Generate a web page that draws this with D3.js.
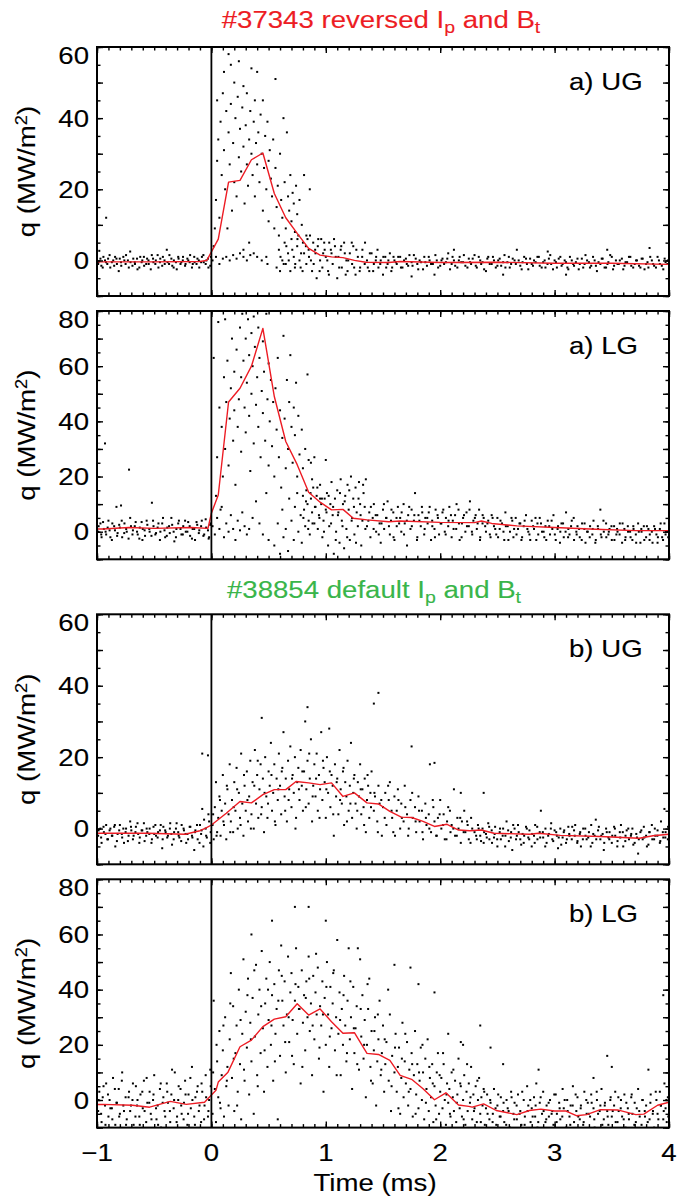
<!DOCTYPE html>
<html>
<head>
<meta charset="utf-8">
<script src="https://cdnjs.cloudflare.com/ajax/libs/d3/7.8.5/d3.min.js"></script>
<style>
  body { margin: 0; background: #fff; }
  text { font-family: "Liberation Sans", Arial, Helvetica, sans-serif; }
</style>
</head>
<body>
<div id="chart"></div>
<script>
// Heat flux q (MW/m^2) vs time (ms) for four divertor probes.
// Point clouds are [time, q] pairs, red curves are the averaged traces.

var X_TICKS = [-1, 0, 1, 2, 3, 4];
var X_TICK_LABELS = ["\u22121", "0", "1", "2", "3", "4"];
var PANEL_NAMES = ["a) UG", "a) LG", "b) UG", "b) LG"];
var Y_MAX = [60, 80, 60, 80];

// #37343, upper gap
var UG_A_PTS = [
  [-.99,-1],[-.98,2.7],[-.97,.5],[-.95,-2],[-.93,0],[-.92,12],[-.91,-1],[-.89,1.5],[-.87,-.5],[-.85,-1.5],[-.83,.5],[-.81,-3],[-.79,-.5],[-.77,1],[-.75,-1],[-.73,0],[-.71,2.5],[-.69,-1.5],[-.67,-.5],[-.65,.5],[-.63,-2],[-.61,-.5],[-.59,1],[-.57,-1],[-.55,0],[-.53,-2.5],[-.51,.5],[-.49,-1],[-.47,1.5],[-.45,-.5],[-.43,-1.5],[-.41,0],[-.39,3],[-.37,-1],[-.35,.5],[-.33,-2],[-.31,-.5],[-.29,1],[-.27,-1],[-.25,0],[-.23,-1.5],[-.21,.5],[-.19,-.5],[-.17,-2],[-.15,1],[-.13,-1],[-.11,0],[-.09,-.5],[-.07,1.5],[-.05,-1],[-.03,.5],[-.01,-1.5],
  [-.987,-.5],[-.962,-1.5],[-.944,1],[-.921,-.5],[-.903,.5],[-.884,-2],[-.858,0],[-.842,1],[-.826,-1],[-.801,.5],[-.788,-1.5],[-.761,0],[-.746,1.5],[-.722,-2],[-.707,-.5],[-.683,.5],[-.668,-1],[-.646,-2.5],[-.622,1],[-.604,0],[-.588,-1.5],[-.562,.5],[-.548,-1],[-.521,1.5],[-.507,-.5],[-.486,0],[-.463,-2],[-.447,.5],[-.424,1],[-.408,-1],[-.383,-.5],[-.367,1.5],[-.342,-1.5],[-.328,0],[-.303,-2.5],[-.287,.5],[-.263,-.5],[-.248,1],[-.226,-1],[-.202,0],[-.186,1.5],[-.163,-1],[-.147,-.5],[-.122,.5],[-.106,-2],[-.083,1],[-.067,-.5],[-.044,0],[-.026,-2],[-.004,1],
  [.02,4],[.03,9],[.04,17],[.05,45],[.05,28],[.06,34],[.07,12],[.08,39],[.09,24],[.1,47],[.11,53],[.11,31],[.12,20],[.13,42],[.14,9],[.15,58],[.15,36],[.16,27],[.17,55],[.17,44],[.18,14],[.19,33],[.2,50],[.2,22],[.21,40],[.22,18],[.23,46],[.24,29],[.24,56],[.25,37],[.26,25],[.27,43],[.28,49],[.28,32],[.29,16],[.3,38],[.31,27],[.31,47],[.32,21],[.33,34],[.34,42],[.35,54],[.35,30],[.36,24],[.37,39],[.38,45],[.38,18],[.39,33],[.4,53],[.4,27],[.41,36],[.42,22],[.43,41],[.44,30],[.45,14],[.45,45],[.46,26],[.47,35],[.48,20],[.49,39],[.5,28],[.5,11],[.51,31],[.52,23],[.53,18],[.54,34],[.55,9],[.56,51],[.56,26],[.57,15],[.58,21],[.59,7],[.6,30],[.61,17],[.62,12],[.63,40],[.64,22],[.65,9],[.66,36],[.67,18],[.68,14],[.69,24],[.7,11],[.71,19],[.72,16],[.73,8],[.74,21],[.75,13],[.77,17],[.79,10],[.81,24],[.83,7],[.86,20],
  [.01,0],[.04,1],[.07,-1],[.1,.5],[.13,1],[.16,0],[.19,1.5],[.22,.5],[.25,2],[.28,1],[.31,0],[.34,1.5],[.37,2],[.4,1],[.44,0],[.48,1],[.33,5],[.28,3],[.49,-1],
  [.57,-2],[.59,3],[.6,-3],[.62,0],[.64,5],[.65,-1],[.67,2],[.69,-3],[.7,6],[.72,1],[.73,-2],[.75,4],[.76,7],[.77,0],[.78,-2],[.8,5],[.81,2],[.83,-1],[.84,6],[.85,3],[.87,0],[.88,-3],[.89,5],[.91,2],[.92,-5],[.93,4],[.95,0],[.96,6],[.97,-2],[.99,3],[1,1],[1.02,-3],[1.03,5],[1.05,2],[1.06,-1],[1.08,4],[1.1,-5],[1.11,1],[1.13,3],[1.14,-2],[1.16,5],[1.18,0],[1.19,-3],[1.21,2],[1.23,-1],[1.24,4],[1.26,-4],[1.28,1],[1.3,-2],[1.32,3],[1.34,-1],[1.36,0],[1.38,-3],[1.4,2],[1.42,-1],[1.44,1],[1.46,-2],[1.48,0],[1.5,-4],[1.52,1],[1.54,-1],[1.56,2],[1.58,-2],
  [.604,1],[.632,-1],[.655,4],[.676,0],[.707,3],[.733,-1],[.752,6],[.784,2],[.797,-3],[.826,4],[.853,1],[.862,7],[.894,-1],[.907,3],[.934,6],[.946,-3],[.977,2],[.986,5],[1.013,0],[1.027,-4],[1.044,3],[1.072,6],[1.087,1],[1.117,-2],[1.135,4],[1.166,2],[1.174,-4],[1.196,0],[1.227,5],[1.248,-2],[1.267,3],[1.296,-3],[1.318,1],[1.343,5],[1.367,-2],[1.385,2],[1.414,-3],[1.437,0],[1.452,3],[1.476,-1],[1.503,1],[1.528,-2],[1.547,0],[1.573,-3],[1.592,1],
  [1.6,0],[1.62,-1],[1.65,1],[1.67,-2],[1.7,.5],[1.72,-1.5],[1.75,-.5],[1.77,1.5],[1.8,-1],[1.82,0],[1.85,-2.5],[1.87,-.5],[1.9,1],[1.92,-1],[1.95,-4],[1.97,0],[2,-1.5],[2.02,.5],[2.05,-.5],[2.07,2],[2.1,-1],[2.12,0],[2.15,-2],[2.17,1],[2.2,-.5],[2.22,-1.5],[2.25,.5],[2.27,-1],[2.3,1.5],[2.32,-2],[2.35,0],[2.37,-.5],[2.4,-3],[2.42,1],[2.45,-1],[2.47,0],[2.5,-1.5],[2.52,.5],[2.55,-.5],[2.57,-2],[2.6,1],[2.62,-1],[2.65,0],[2.67,3],[2.7,-1.5],[2.72,-.5],[2.75,.5],[2.77,-2.5],[2.8,-1],[2.82,0],[2.85,1],[2.87,-1.5],[2.9,-.5],[2.92,-2],[2.95,.5],[2.97,-1],[3,0],[3.02,-2],[3.05,1],[3.07,-1],[3.1,-.5],[3.12,-2.5],[3.15,0],[3.17,-1.5],[3.2,.5],[3.22,-1],[3.25,-2],[3.27,1.5],[3.3,-.5],[3.32,-1.5],[3.35,0],[3.37,-3],[3.4,-1],[3.42,.5],[3.45,-2],[3.47,-.5],[3.5,1],[3.52,-1.5],[3.55,-1],[3.57,0],[3.6,-2.5],[3.62,-.5],[3.65,1],[3.67,-1.5],[3.7,-1],[3.72,0],[3.75,-2],[3.77,.5],[3.8,-1],[3.82,-2],[3.85,0],[3.87,-1.5],[3.9,1],[3.92,-1],[3.95,-2.5],[3.97,-.5],[3.99,0],
  [1.612,-.5],[1.633,1],[1.657,-2],[1.684,0],[1.708,-1],[1.731,1.5],[1.758,-1.5],[1.786,.5],[1.808,-2.5],[1.833,-.5],[1.861,1],[1.884,-1.5],[1.907,0],[1.936,-1],[1.958,1.5],[1.982,-2],[2.011,0],[2.034,-1],[2.062,.5],[2.086,-2.5],[2.108,1],[2.131,-1.5],[2.163,0],[2.184,-.5],[2.207,1.5],[2.238,-2],[2.261,-.5],[2.284,.5],[2.311,-1.5],[2.337,1],[2.358,-1],[2.384,-2.5],[2.412,.5],[2.433,-1],[2.461,1],[2.486,-2],[2.507,0],[2.533,-1.5],[2.562,1.5],[2.587,-.5],[2.608,-2],[2.634,.5],[2.661,-1],[2.686,0],[2.712,-2.5],[2.734,1],[2.758,-1],[2.786,.5],[2.811,-1.5],[2.834,-.5],[2.862,1],[2.887,-2],[2.913,0],[2.938,-1],[2.962,1.5],[2.986,-2.5],[3.012,-.5],[3.036,.5],[3.061,-1.5],[3.088,0],[3.112,-2],[3.134,1],[3.162,-1],[3.186,-.5],[3.211,-2.5],[3.238,.5],[3.262,-1],[3.284,0],[3.309,-2],[3.336,1],[3.361,-1.5],[3.384,-.5],[3.412,.5],[3.437,-2],[3.462,-1],[3.486,1.5],[3.511,-2.5],[3.536,0],[3.561,-1],[3.588,.5],[3.611,-1.5],[3.634,-.5],[3.662,1],[3.687,-2],[3.712,0],[3.738,-1.5],[3.761,.5],[3.786,-2.5],[3.812,-.5],[3.836,1],[3.861,-1],[3.886,-2],[3.912,0],[3.937,-1.5],[3.962,.5],[3.986,-1],
  [2.12,3],[2.94,2.5],[3.46,3],[3.83,3.5],[2.55,-4],[1.75,-4.5],[3.1,-4]
];
var UG_A_AVG = [
  [-1,-.4],[-.5,-.4],[-.1,-.3],[-.04,0],[.06,6],[.15,22],[.25,22.5],[.35,28.3],[.45,30.2],[.55,18.8],[.65,12],[.75,7.6],[.85,3.4],[.95,1.5],[1.05,1],[1.15,.8],[1.25,0],[1.35,-.5],[1.55,-.6],[1.65,-.3],[2,-.6],[2.5,-.5],[3,-.8],[3.5,-.8],[4,-1.1]
];

// #37343, lower gap
var LG_A_PTS = [
  [-.99,0],[-.97,3],[-.96,-2],[-.94,1],[-.93,32],[-.92,-1],[-.9,4],[-.89,.5],[-.87,-3],[-.85,2],[-.83,9],[-.82,-.5],[-.8,1.5],[-.79,9.5],[-.78,-2],[-.76,3],[-.74,0],[-.72,22.5],[-.71,5],[-.69,-1],[-.67,2],[-.65,0],[-.63,-2.5],[-.61,3.5],[-.6,1],[-.58,-1.5],[-.56,2.5],[-.54,0],[-.52,10.5],[-.51,4],[-.49,-1],[-.47,1.5],[-.45,-3],[-.43,3],[-.41,.5],[-.39,-1.5],[-.37,2],[-.35,5],[-.33,0],[-.31,-2],[-.29,3],[-.27,1],[-.25,-1],[-.23,4],[-.21,0],[-.19,2],[-.17,-2.5],[-.15,1],[-.13,3.5],[-.11,-.5],[-.09,2],[-.07,-1.5],[-.05,4.5],[-.03,.5],[-.02,-2],[-.01,2.5],
  [-.986,2],[-.963,-1],[-.947,3.5],[-.925,0],[-.907,1.5],[-.883,-2],[-.866,3],[-.843,.5],[-.824,-1.5],[-.806,2.5],[-.784,4],[-.762,-.5],[-.745,1],[-.724,-2.5],[-.703,2],[-.686,.5],[-.662,3.5],[-.644,-1],[-.626,1.5],[-.603,-3],[-.584,.5],[-.566,4],[-.543,1],[-.524,-1.5],[-.506,2],[-.484,-.5],[-.463,3],[-.446,0],[-.423,5],[-.404,-2],[-.386,1.5],[-.364,-.5],[-.343,2.5],[-.324,-3.5],[-.306,1],[-.284,4],[-.262,-1],[-.246,2],[-.224,0],[-.203,3.5],[-.186,-1.5],[-.164,1],[-.143,-3],[-.124,2.5],[-.106,.5],[-.084,4],[-.063,-1],[-.046,1.5],[-.024,-2.5],[-.006,3],
  [.02,63],[.04,13],[.05,27],[.06,76],[.07,45],[.08,8],[.09,38],[.1,20],[.11,56],[.12,77],[.12,30],[.13,47],[.14,62],[.15,24],[.16,41],[.17,52],[.18,70],[.19,33],[.2,58],[.2,44],[.21,17],[.22,66],[.23,38],[.24,48],[.25,74],[.26,56],[.26,29],[.27,79],[.28,62],[.29,45],[.3,70],[.3,36],[.31,54],[.32,77],[.33,64],[.33,42],[.34,22],[.35,72],[.35,50],[.36,60],[.37,78],[.37,32],[.38,67],[.39,46],[.4,56],[.41,74],[.41,38],[.42,63],[.43,27],[.44,51],[.45,69],[.45,43],[.46,58],[.47,33],[.48,79],[.49,48],[.5,61],[.5,24],[.51,40],[.52,55],[.53,31],[.54,47],[.55,20],[.56,52],[.57,37],[.58,63],[.59,27],[.6,44],[.61,16],[.62,34],[.63,71],[.64,41],[.65,23],[.66,55],[.67,30],[.68,47],[.69,64],[.7,38],[.71,25],[.72,45],[.73,35],[.74,54],[.75,20],[.76,42],[.77,28],[.79,37],[.8,23],[.82,30],[.84,57],[.85,26],[.87,25],[.88,19],[.9,27],[.95,12],[1,26],
  [.01,2],[.03,-1],[.05,5],[.07,1],[.09,9],[.11,-2],[.13,3],[.15,0],[.17,6],[.19,1],[.21,-3],[.23,4],[.25,.5],[.27,7],[.29,2],[.31,-1],[.33,1],[.36,5],[.39,11],[.42,3],[.45,-1],[.5,-3],[.48,14],
  [.55,-5],[.58,3],[.6,-8],[.62,8],[.63,-2],[.65,1],[.67,-7],[.68,12],[.7,4],[.72,-3],[.73,9],[.75,14],[.76,0],[.78,6],[.79,-4],
  [.8,13],[.81,8],[.82,2],[.83,15],[.84,10],[.85,4],[.86,-1],[.87,12],[.88,7],[.89,16],[.9,3],[.91,9],[.92,13],[.93,1],[.94,6],[.95,17],[.96,10],[.97,-2],[.98,4],[.99,12],[1,8],[1.01,14],[1.02,-5],[1.03,2],[1.04,10],[1.05,18],[1.06,6],[1.07,-8],[1.08,12],[1.09,0],[1.1,15],[1.11,7],[1.12,-4],[1.13,19],[1.14,4],[1.15,10],[1.16,-6],[1.17,13],[1.18,1],[1.19,17],[1.2,8],[1.21,-3],[1.22,20],[1.23,5],[1.24,12],[1.25,-1],[1.26,16],[1.27,7],[1.28,2],[1.29,18],[1.3,10],[1.31,-5],[1.32,4],[1.33,14],[1.34,9],[1.35,19],
  [.804,5],[.827,11],[.846,1],[.866,14],[.884,3],[.905,9],[.926,16],[.944,5],[.966,12],[.984,0],[1.006,7],[1.025,13],[1.046,3],[1.064,9],[1.087,-3],[1.106,6],[1.124,14],[1.146,2],[1.165,11],[1.187,-2],[1.205,15],[1.226,4],[1.246,9],[1.264,-4],[1.286,12],[1.304,6],[1.326,17],[1.346,1],
  [1.36,2],[1.38,7],[1.39,-2],[1.41,5],[1.42,10],[1.44,0],[1.45,6],[1.47,3],[1.48,-4],[1.5,8],[1.51,1],[1.53,5],[1.54,11],[1.56,-1],[1.57,4],[1.59,7],[1.6,-3],[1.62,2],[1.63,9],[1.65,5],[1.66,0],[1.68,10],[1.69,3],[1.71,-5],[1.72,6],[1.74,1],[1.75,8],[1.77,4],[1.78,14],[1.8,-2],[1.81,6],[1.83,2],[1.84,9],[1.86,-1],[1.87,5],[1.89,3],[1.9,7],[1.92,-3],[1.93,4],[1.95,1],[1.96,8],[1.98,5],[1.99,-1],[2.01,3],[2.02,7],[2.04,0],[2.05,5],[2.07,2],[2.08,9],[2.1,-2],[2.11,4],[2.13,6],[2.14,1],[2.16,8],[2.17,-3],[2.19,3],[2.2,5],[2.22,0],[2.23,7],[2.25,2],[2.26,11],[2.28,-1],[2.29,4],[2.31,6],[2.32,1],[2.34,8],[2.35,-2],[2.37,3],[2.38,5],
  [1.372,4],[1.394,9],[1.418,1],[1.436,6],[1.463,-1],[1.487,3],[1.508,10],[1.527,5],[1.552,2],[1.574,8],[1.592,-2],[1.618,5],[1.641,3],[1.663,7],[1.684,-1],[1.708,4],[1.729,9],[1.752,2],[1.774,6],[1.797,-3],[1.818,4],[1.843,7],[1.864,1],[1.887,5],[1.908,9],[1.931,2],[1.954,-2],[1.977,6],[2.004,3],[2.027,8],[2.048,-1],[2.073,4],[2.094,6],[2.117,1],[2.143,10],[2.164,3],[2.187,-2],[2.208,6],[2.234,2],[2.256,8],[2.277,0],[2.303,5],[2.327,3],[2.348,-3],[2.371,6],[2.393,2],
  [2.4,0],[2.42,4],[2.44,-2],[2.45,6],[2.47,2],[2.49,-1],[2.5,5],[2.52,1],[2.54,3],[2.56,-3],[2.57,7],[2.59,2],[2.61,0],[2.63,4],[2.64,-2],[2.66,5],[2.68,1],[2.7,3],[2.71,-3],[2.73,2],[2.75,6],[2.77,0],[2.78,-1],[2.8,4],[2.82,1],[2.84,-3],[2.85,3],[2.87,5],[2.89,0],[2.91,-2],[2.92,2],[2.94,4],[2.96,-1],[2.98,1],[2.99,6],[3.01,-3],[3.03,2],[3.05,0],[3.06,3],[3.08,-2],[3.1,7],[3.12,1],[3.13,-1],[3.15,4],[3.17,-3],[3.19,0],[3.2,2],[3.22,-2],[3.24,3],[3.26,1],[3.27,-4],[3.29,0],[3.31,2],[3.33,-1],[3.34,4],[3.36,-3],[3.38,1],[3.4,8],[3.41,-2],[3.43,0],[3.45,3],[3.47,-1],[3.48,1],[3.5,-3],[3.52,2],[3.54,-1],[3.55,0],[3.57,3],[3.59,-4],[3.61,1],[3.62,-2],[3.64,2],[3.66,0],[3.68,-3],[3.69,1],[3.71,-1],[3.73,3],[3.75,-4],[3.76,0],[3.78,2],[3.8,-2],[3.82,1],[3.83,-3],[3.85,0],[3.87,2],[3.89,-1],[3.9,-4],[3.92,1],[3.94,-2],[3.96,3],[3.97,-1],[3.99,0],
  [2.413,3],[2.434,-1],[2.458,5],[2.481,1],[2.506,-2],[2.527,4],[2.553,0],[2.574,2],[2.596,-3],[2.623,5],[2.646,1],[2.667,-1],[2.693,3],[2.716,-2],[2.738,4],[2.762,1],[2.787,-3],[2.812,2],[2.833,5],[2.857,-1],[2.881,3],[2.904,0],[2.927,-3],[2.953,2],[2.974,4],[3.002,-1],[3.026,1],[3.047,-4],[3.074,3],[3.096,0],[3.118,-2],[3.144,2],[3.167,5],[3.193,-1],[3.214,1],[3.237,-3],[3.262,3],[3.284,0],[3.307,-2],[3.333,1],[3.356,-4],[3.378,2],[3.404,-1],[3.427,4],[3.452,-2],[3.474,0],[3.497,2],[3.523,-3],[3.546,1],[3.568,-1],[3.594,3],[3.617,-3],[3.642,0],[3.664,-2],[3.688,2],[3.713,-4],[3.736,0],[3.758,1],[3.784,-3],[3.807,2],[3.832,-1],[3.856,-4],[3.878,1],[3.903,-2],[3.927,3],[3.948,-3],[3.973,0],[3.993,-2]
];
var LG_A_AVG = [
  [-1,1],[-.95,1],[-.72,1.5],[-.5,1.2],[-.18,1.5],[-.03,1.2],[0,6.7],[.06,13.3],[.15,47],[.25,52],[.35,60],[.45,73.7],[.55,49],[.65,32.7],[.75,24.3],[.85,14.3],[.95,10.7],[1.05,7.9],[1.15,8.1],[1.24,4.9],[1.36,4.3],[1.55,3.6],[1.65,3.9],[2,3.4],[2.3,3.3],[2.36,3.9],[2.45,3],[2.67,2.1],[3,1.5],[3.36,.9],[3.71,.4],[4,.4]
];

// #38854, upper gap
var UG_B_PTS = [
  [-.99,-2],[-.97,0],[-.96,-4],[-.94,-1],[-.92,1],[-.91,-3],[-.89,-.5],[-.87,-2],[-.85,.5],[-.84,-5],[-.82,-1.5],[-.8,1],[-.78,-2.5],[-.77,0],[-.75,-1],[-.73,-3.5],[-.71,2],[-.7,-.5],[-.68,-2],[-.66,.5],[-.64,-1.5],[-.63,-4],[-.61,-.5],[-.59,1.5],[-.57,-2],[-.56,-1],[-.54,0],[-.52,-3],[-.5,-1.5],[-.49,1],[-.47,-2.5],[-.45,-.5],[-.43,-5.5],[-.42,.5],[-.4,-1],[-.38,-2],[-.36,1.5],[-.35,-1.5],[-.33,-3],[-.31,0],[-.29,-1],[-.28,-2.5],[-.26,1],[-.24,-.5],[-.22,-4],[-.21,-1.5],[-.19,.5],[-.17,-2],[-.15,-6],[-.14,-.5],[-.12,-3],[-.1,1],[-.09,-1.5],[-.08,21],[-.08,5.5],[-.07,-5],[-.05,0],[-.04,-2.5],[-.03,20.5],[-.02,2],[-.01,-4],
  [-.986,-.5],[-.964,-2.5],[-.943,.5],[-.926,-1.5],[-.904,-3],[-.883,0],[-.866,-2],[-.844,1],[-.826,-3.5],[-.806,-.5],[-.783,-1.5],[-.764,-4],[-.746,0],[-.724,-2],[-.703,.5],[-.686,-3],[-.664,-1],[-.646,1.5],[-.626,-2.5],[-.604,-.5],[-.584,-3.5],[-.566,0],[-.543,-1.5],[-.524,-4],[-.506,.5],[-.484,-2],[-.466,-1],[-.443,1],[-.426,-3],[-.404,-.5],[-.386,-2.5],[-.363,0],[-.344,-4.5],[-.326,-1],[-.304,1.5],[-.286,-2],[-.264,-3.5],[-.243,0],[-.226,-1.5],[-.204,-3],[-.184,.5],[-.166,-2.5],[-.144,-1],[-.126,1],[-.104,-4],[-.086,-.5],[-.064,2.5],[-.046,-2],[-.026,4],[-.006,-1],
  [.01,1],[.02,-3],[.03,6],[.04,13],[.05,-1],[.06,3],[.07,9],[.08,-2],[.09,5],[.1,15],[.11,1],[.12,7],[.13,-3],[.14,11],[.15,4],[.16,18],[.17,2],[.18,8],[.19,-1],[.2,13],[.21,5],[.22,17],[.23,0],[.24,10],[.25,3],[.26,21],[.27,7],[.28,-2],[.29,12],[.3,5],
  [.31,16],[.32,2],[.33,9],[.34,19],[.35,4],[.36,13],[.37,0],[.38,22],[.39,7],[.4,15],[.41,3],[.42,11],[.43,18],[.44,31],[.44,6],[.45,14],[.46,-1],[.47,20],[.48,9],[.49,3],[.5,16],[.51,12],[.52,24],[.53,5],[.54,10],[.55,18],[.56,1],[.57,14],[.58,8],[.59,21],[.6,12],[.61,4],[.62,17],[.63,27],[.64,9],[.65,14],[.66,2],[.67,19],[.68,11],[.69,23],[.7,6],[.71,15],[.72,10],[.73,20],[.74,3],[.75,13],[.76,17],[.77,8],[.78,22],[.79,12],
  [.8,5],[.81,16],[.82,30],[.83,11],[.84,34],[.84,19],[.85,7],[.86,14],[.87,25],[.88,2],[.89,12],[.9,18],[.91,9],[.92,21],[.93,5],[.94,15],[.95,11],[.96,27],[.97,8],[.98,17],[.99,13],[1,3],[1.01,20],[1.02,10],[1.03,28],[1.04,6],[1.05,15],[1.06,12],[1.07,-2],[1.08,18],[1.09,9],[1.1,14],
  [1.11,4],[1.12,22],[1.13,11],[1.14,7],[1.15,16],[1.16,1],[1.17,13],[1.18,9],[1.19,19],[1.2,5],[1.21,12],[1.22,24],[1.23,3],[1.24,10],[1.25,15],[1.26,7],[1.27,0],[1.28,13],[1.29,9],[1.3,18],[1.31,4],[1.32,11],[1.33,6],[1.34,14],[1.35,-1],[1.36,8],[1.37,12],[1.38,3],[1.39,10],[1.4,16],[1.42,35],[1.42,5],[1.43,9],[1.45,2],[1.46,38],[1.46,12],[1.47,7],[1.49,-2],
  [1.5,6],[1.52,10],[1.53,1],[1.55,8],[1.56,13],[1.58,3],[1.59,-1],[1.6,9],[1.62,5],[1.63,11],[1.65,0],[1.66,7],[1.68,2],[1.69,12],[1.71,4],[1.72,-2],[1.74,8],[1.75,23],[1.76,3],[1.78,6],[1.79,-1],[1.81,9],[1.82,2],[1.84,5],[1.85,-3],[1.87,7],[1.88,1],[1.9,4],[1.91,18],[1.92,-1],[1.94,6],[1.95,18.4],[1.95,2],[1.97,-2],[1.98,3],[2,8],[2.01,0],[2.03,4],[2.04,-3],[2.06,2],[2.07,6],[2.09,-1],[2.1,1],[2.12,11],[2.13,-2],[2.15,3],[2.16,0],[2.18,10],[2.18,-4],[2.19,2],[2.21,5],[2.22,-1],[2.24,1],[2.25,-3],[2.27,3],[2.28,0],
  [.015,4],[.045,-2],[.075,8],[.105,2],[.135,12],[.165,-1],[.195,6],[.225,11],[.255,1],[.285,15],[.315,8],[.345,0],[.375,12],[.405,19],[.435,4],[.465,10],[.495,7],[.525,15],[.555,2],[.585,11],[.615,16],[.645,5],[.675,8],[.705,14],[.735,0],[.765,11],[.795,16],[.825,6],[.855,21],[.885,9],[.915,14],[.945,3],[.975,19],[1.005,11],[1.035,16],[1.065,4],[1.095,13],[1.125,8],[1.155,17],[1.185,2],[1.215,7],[1.245,14],[1.275,5],[1.305,11],[1.335,1],[1.365,15],[1.395,6],[1.425,10],[1.455,-1],[1.485,8],[1.515,3],[1.545,12],[1.575,5],[1.605,-2],[1.635,8],[1.665,3],[1.695,6],[1.725,0],[1.755,10],[1.785,2],[1.815,5],[1.845,-1],[1.875,3],[1.905,0],[1.935,8],[1.965,-2],[1.995,4],[2.025,1],[2.055,-3],[2.085,5],[2.115,0],[2.145,-2],[2.175,3],[2.205,-1],[2.235,2],[2.265,-4],
  [2.3,-1],[2.32,-3],[2.33,1],[2.35,-2],[2.37,0],[2.38,10],[2.38,-4],[2.4,-1.5],[2.42,1.5],[2.43,-3],[2.45,-.5],[2.47,-2.5],[2.48,.5],[2.5,-5],[2.52,-1],[2.53,-3],[2.55,0],[2.57,-2],[2.58,2],[2.6,-3.5],[2.62,-1],[2.63,-6],[2.65,0],[2.67,-2],[2.68,1],[2.7,-3],[2.72,-1.5],[2.73,-4],[2.75,.5],[2.77,-2.5],[2.78,-.5],[2.8,-5],[2.82,-2],[2.83,1],[2.85,-3],[2.87,-1],[2.88,5],[2.9,-2.5],[2.92,0],[2.93,-4],[2.95,-1.5],[2.97,1.5],[2.98,-3],[3,-.5],[3.02,-2],[3.03,-5.5],[3.05,0],[3.07,-2.5],[3.08,-1],[3.1,-4],[3.12,.5],[3.13,-2],[3.15,-3],[3.17,-.5],[3.18,1],[3.2,-3.5],[3.22,-1.5],[3.23,-5],[3.25,0],[3.27,-2],[3.28,-3],[3.3,-1],[3.32,1],[3.33,-4],[3.35,-2],[3.36,2.5],[3.38,-.5],[3.4,-3],[3.42,-1.5],[3.43,-6],[3.45,0],[3.47,-2.5],[3.48,-1],[3.5,-4],[3.52,.5],[3.53,-2],[3.55,-3.5],[3.57,-1],[3.58,1],[3.6,-5],[3.62,-2],[3.63,-.5],[3.65,-3],[3.67,-1.5],[3.68,0],[3.7,-4],[3.72,-2.5],[3.73,-7],[3.75,-1],[3.77,-3],[3.78,.5],[3.8,-2],[3.82,-4.5],[3.83,-1],[3.85,1],[3.87,-3],[3.88,-2],[3.9,-.5],[3.92,-4],[3.93,2],[3.95,-2.5],[3.96,5.5],[3.97,-1],[3.99,-3],
  [2.314,-2],[2.336,0],[2.357,-3.5],[2.384,-1],[2.407,-2.5],[2.428,.5],[2.453,-4],[2.476,-1.5],[2.498,-3],[2.523,0],[2.546,-2],[2.568,-5],[2.594,-.5],[2.617,-2.5],[2.638,1],[2.663,-3],[2.686,-1],[2.708,-4.5],[2.734,-2],[2.757,0],[2.778,-3],[2.804,-1.5],[2.826,-4],[2.848,.5],[2.874,-2.5],[2.897,-1],[2.918,-5],[2.944,-2],[2.967,0],[2.988,-3.5],[3.014,-1],[3.036,-2.5],[3.058,-4.5],[3.084,-.5],[3.107,-3],[3.128,-1.5],[3.154,.5],[3.176,-2],[3.198,-4],[3.224,-1],[3.247,-3],[3.268,0],[3.294,-2.5],[3.316,-5],[3.338,-1.5],[3.364,-3],[3.387,.5],[3.408,-2],[3.434,-4],[3.456,-1],[3.478,-3],[3.504,-2],[3.527,0],[3.548,-5],[3.574,-2.5],[3.596,-1],[3.618,-3.5],[3.644,0],[3.667,-2],[3.688,-4.5],[3.714,-1.5],[3.736,-3],[3.758,-.5],[3.784,-2.5],[3.807,-5],[3.828,-1],[3.854,-3],[3.876,0],[3.898,-2],[3.924,-3.5],[3.946,-1],[3.968,-2.5],[3.992,.5]
];
var UG_B_AVG = [
  [-1,-1.3],[-.56,-1.3],[-.23,-1.6],[-.1,-.6],[-.05,.1],[0,1],[.13,4.3],[.25,7.6],[.35,7.2],[.45,9.5],[.55,10.9],[.65,10.9],[.74,13.2],[.85,12.8],[.95,12.3],[1.05,12.8],[1.15,9],[1.25,10],[1.36,7.2],[1.46,6.9],[1.56,4.8],[1.66,3.2],[1.75,3.1],[1.85,2],[1.95,.6],[2.06,1.2],[2.16,-.4],[2.26,-.6],[2.36,-.4],[2.47,-1.3],[2.78,-1.6],[2.86,-1.3],[3.05,-1.9],[3.4,-2.2],[3.74,-2.7],[3.86,-2],[4,-1.6]
];

// #38854, lower gap
var LG_B_PTS = [
  [-.99,-4],[-.98,3],[-.96,-8],[-.95,1],[-.93,-2],[-.92,6],[-.9,-6],[-.89,0],[-.87,-3],[-.86,8],[-.84,-9],[-.83,-1],[-.81,4],[-.8,-5],[-.78,10],[-.77,-2],[-.75,1],[-.74,-7],[-.72,3],[-.71,-4],[-.69,0],[-.68,-9],[-.66,5],[-.65,-2],[-.63,-6],[-.62,2],[-.6,-3],[-.59,7],[-.57,-8],[-.56,-1],[-.54,3],[-.53,-5],[-.51,0],[-.5,9],[-.48,-7],[-.47,-2],[-.45,4],[-.44,-10],[-.42,1],[-.41,-4],[-.39,6],[-.38,-1],[-.36,-8],[-.35,2],[-.33,-3],[-.32,10],[-.3,-6],[-.29,0],[-.27,4],[-.26,-5],[-.24,-1],[-.23,7],[-.21,-9],[-.2,2],[-.18,-3],[-.17,12],[-.15,-6],[-.14,1],[-.12,5],[-.11,-4],[-.09,-8],[-.08,3],[-.06,-2],[-.05,9],[-.03,-6],[-.02,0],[-.01,11],
  [-.986,0],[-.964,-5],[-.943,5],[-.926,-9],[-.904,2],[-.883,-3],[-.866,-7],[-.844,4],[-.826,-1],[-.806,-6],[-.783,7],[-.764,-4],[-.746,-9],[-.724,1],[-.703,-2],[-.686,6],[-.664,-6],[-.646,0],[-.626,-9],[-.604,3],[-.584,-4],[-.566,8],[-.543,-1],[-.524,-7],[-.506,2],[-.484,-3],[-.466,-9],[-.443,6],[-.426,-1],[-.404,-6],[-.386,3],[-.363,-4],[-.344,11],[-.326,0],[-.304,-8],[-.286,5],[-.264,-2],[-.243,-7],[-.226,2],[-.204,-5],[-.184,8],[-.166,0],[-.144,-9],[-.126,3],[-.104,-2],[-.086,6],[-.064,-7],[-.046,1],[-.026,-4],[-.006,5],
  [.01,-5],[.02,36],[.03,4],[.04,-8],[.05,14],[.06,1],[.07,25],[.08,-3],[.09,9],[.1,18],[.11,-6],[.12,30],[.13,5],[.14,12],[.15,-2],[.16,22],[.17,46],[.18,8],[.19,34],[.2,-4],[.21,17],[.22,27],[.23,3],[.24,40],[.25,13],[.26,-7],[.27,24],[.28,51],[.29,7],[.3,32],
  [.31,19],[.32,44],[.33,2],[.34,28],[.35,60],[.35,14],[.36,37],[.37,-5],[.38,23],[.39,49],[.4,9],[.41,31],[.42,40],[.43,17],[.44,54],[.45,26],[.46,3],[.47,35],[.48,44],[.49,12],[.5,29],[.51,50],[.52,20],[.53,65],[.53,38],[.54,7],[.55,42],[.56,24],[.57,33],[.58,-7],[.59,47],[.6,16],[.61,56],[.62,36],[.63,27],[.64,43],[.65,10],[.66,31],[.67,52],[.68,21],[.69,39],
  [.7,46],[.71,29],[.72,13],[.73,70],[.73,36],[.74,55],[.75,24],[.76,41],[.77,33],[.78,6],[.79,47],[.8,28],[.81,38],[.82,18],[.83,43],[.84,30],[.85,70],[.85,52],[.86,25],[.87,35],[.88,9],[.89,45],[.9,22],[.91,39],[.92,31],[.93,48],[.94,15],[.95,34],[.96,27],[.97,43],[.98,3],[.99,37],[1,65],[1,20],[1.01,50],[1.02,31],[1.03,12],[1.04,41],[1.05,26],[1.06,35],[1.07,47],[1.08,18],[1.09,30],[1.1,58],
  [1.11,24],[1.12,39],[1.13,9],[1.14,33],[1.15,20],[1.16,45],[1.17,27],[1.18,14],[1.19,36],[1.2,55],[1.21,22],[1.22,30],[1.23,4],[1.24,41],[1.25,17],[1.26,26],[1.27,34],[1.28,55],[1.29,11],[1.3,51],[1.31,23],[1.32,38],[1.33,15],[1.34,29],[1.35,1],[1.36,20],[1.37,33],[1.38,44],[1.39,12],[1.4,25],[1.41,6],[1.42,18],[1.43,30],[1.44,-2],[1.45,14],[1.46,22],[1.47,36],[1.48,9],[1.49,17],[1.5,27],[1.51,3],[1.52,13],[1.53,21],[1.55,7],[1.56,31],[1.57,-4],[1.58,16],[1.6,49],[1.6,10],
  [1.61,24],[1.62,3],[1.63,12],[1.64,19],[1.65,-5],[1.66,8],[1.67,28],[1.68,1],[1.69,14],[1.7,6],[1.71,21],[1.72,-2],[1.73,11],[1.74,48],[1.74,4],[1.75,17],[1.76,-6],[1.77,9],[1.78,25],[1.79,2],[1.8,13],[1.81,42],[1.81,-3],[1.82,7],[1.83,19],[1.84,0],[1.85,10],[1.86,-7],[1.87,15],[1.88,4],[1.89,22],[1.9,-4],[1.91,8],[1.92,1],[1.93,13],[1.94,-8],[1.95,39],[1.95,5],[1.96,-2],[1.97,10],[1.98,17],[1.99,-5],[2,3],[2.01,8],[2.02,-3],[2.03,13],[2.04,0],[2.05,-9],[2.06,6],[2.07,24],[2.07,-1],[2.08,4],[2.09,-6],[2.1,10],[2.11,1],[2.12,-4],[2.13,7],[2.14,-8],[2.15,2],[2.16,15],[2.17,-3],[2.18,21],[2.18,5],[2.19,-6],[2.2,20],[2.2,0],[2.21,9],[2.22,-9],[2.23,3],[2.24,-4],[2.25,6],[2.26,-1],[2.27,12],[2.28,-7],[2.29,2],[2.3,-3],[2.31,5],[2.32,-8],[2.33,0],[2.34,8],[2.35,27],[2.35,-5],[2.36,1],[2.37,-2],[2.38,4],[2.39,-9],
  [.015,10],[.045,20],[.075,-1],[.105,27],[.135,7],[.165,35],[.195,15],[.225,-2],[.255,29],[.285,11],[.315,38],[.345,22],[.375,47],[.405,5],[.435,34],[.465,18],[.495,40],[.525,27],[.555,14],[.585,36],[.615,45],[.645,21],[.675,30],[.705,16],[.735,42],[.765,33],[.795,12],[.825,37],[.855,44],[.885,27],[.915,53],[.945,19],[.975,31],[1.005,41],[1.035,23],[1.065,46],[1.095,9],[1.125,29],[1.155,38],[1.185,17],[1.215,43],[1.245,26],[1.275,13],[1.305,33],[1.335,20],[1.365,42],[1.395,7],[1.425,25],[1.455,31],[1.485,11],[1.515,22],[1.545,40],[1.575,5],[1.605,19],[1.635,-3],[1.665,15],[1.695,24],[1.725,3],[1.755,13],[1.785,-5],[1.815,10],[1.845,20],[1.875,-1],[1.905,12],[1.935,6],[1.965,-7],[1.995,9],[2.025,17],[2.055,2],[2.085,-5],[2.115,11],[2.145,-1],[2.175,6],[2.205,-7],[2.235,13],[2.265,1],[2.295,-4],[2.325,7],[2.355,-8],[2.385,3],
  [2.4,-3],[2.41,2],[2.43,-7],[2.44,19],[2.44,-1],[2.46,-5],[2.47,4],[2.49,-9],[2.5,-2],[2.52,-6],[2.53,1],[2.55,13],[2.55,-4],[2.56,-8],[2.58,0],[2.59,-3],[2.61,-10],[2.62,3],[2.64,-5],[2.65,-1],[2.67,-7],[2.68,2],[2.7,-4],[2.71,-9],[2.73,0],[2.74,-6],[2.76,5],[2.77,-2],[2.79,-8],[2.8,-3],[2.82,1],[2.83,-6],[2.84,6],[2.85,-10],[2.86,11],[2.87,-1],[2.89,-5],[2.9,3],[2.92,-8],[2.93,-2],[2.95,-6],[2.96,0],[2.98,-4],[2.99,-9],[3.01,2],[3.02,-5],[3.04,-1],[3.05,-7],[3.07,4],[3.08,-3],[3.1,-10],[3.11,0],[3.13,-6],[3.14,-2],[3.16,5],[3.17,-8],[3.19,-4],[3.2,1],[3.22,-7],[3.23,-2],[3.25,-9],[3.26,3],[3.28,-5],[3.29,-1],[3.31,-6],[3.32,2],[3.34,8],[3.34,-3],[3.35,-10],[3.37,0],[3.38,-5],[3.4,-2],[3.41,4],[3.43,-7],[3.44,-1],[3.46,16],[3.46,-4],[3.47,-9],[3.49,1],[3.5,12],[3.5,-6],[3.52,-2],[3.53,3],[3.55,-8],[3.56,-4],[3.58,0],[3.59,-6],[3.61,2],[3.62,-10],[3.64,-3],[3.65,-7],[3.67,1],[3.68,-5],[3.7,-1],[3.71,-8],[3.73,4],[3.74,-4],[3.76,-9],[3.77,0],[3.79,-6],[3.8,-2],[3.82,11],[3.83,-7],[3.84,2],[3.86,-4],[3.87,-10],[3.89,0],[3.9,-5],[3.92,3],[3.93,-2],[3.95,38],[3.95,-7],[3.96,6],[3.97,-3],[3.98,-8],[3.99,1],
  [2.414,-5],[2.437,0],[2.458,-8],[2.484,-3],[2.507,2],[2.528,-6],[2.554,-1],[2.577,-9],[2.598,-4],[2.624,1],[2.647,-7],[2.668,-2],[2.694,-5],[2.717,3],[2.738,-9],[2.764,-4],[2.787,0],[2.808,-6],[2.834,-2],[2.857,-8],[2.878,1],[2.904,-4],[2.927,-7],[2.948,-1],[2.974,-5],[2.997,2],[3.018,-8],[3.044,-3],[3.067,-6],[3.088,0],[3.114,-4],[3.137,-9],[3.158,-2],[3.184,2],[3.207,-6],[3.228,-3],[3.254,-8],[3.277,0],[3.298,-5],[3.324,-1],[3.347,-7],[3.368,3],[3.394,-4],[3.417,-9],[3.438,-2],[3.464,-6],[3.487,0],[3.508,-4],[3.534,-8],[3.557,1],[3.578,-3],[3.604,-7],[3.627,-1],[3.648,-5],[3.674,2],[3.697,-9],[3.718,-3],[3.744,-6],[3.767,0],[3.788,-4],[3.814,-8],[3.837,-1],[3.858,-5],[3.884,3],[3.907,-7],[3.928,-2],[3.954,-4],[3.977,0],[3.994,-6]
];
var LG_B_AVG = [
  [-1,-1.6],[-.95,-1.6],[-.69,-1.9],[-.54,-2.6],[-.36,-.5],[-.22,-1.6],[-.06,-.8],[.04,3.5],[.06,6.5],[.145,10.1],[.25,19.3],[.35,21.7],[.45,26.6],[.55,29.3],[.65,30.2],[.75,34.9],[.85,30.8],[.95,33],[1.05,28.4],[1.15,24.2],[1.25,24.4],[1.36,16.9],[1.46,16.5],[1.56,14.4],[1.65,8.9],[1.75,7.5],[1.85,4.1],[1.95,.1],[2.05,2.6],[2.16,-1.8],[2.25,-2.3],[2.28,-2.6],[2.38,-1.4],[2.49,-3.8],[2.67,-5.3],[2.78,-3.8],[2.88,-3.3],[3,-4],[3.1,-4],[3.19,-5.7],[3.28,-5.3],[3.4,-3.5],[3.55,-3.6],[3.71,-5.3],[3.78,-5.1],[3.9,-1.9],[4,-.8]
];

var RED = "#ed1c24", GREEN = "#39b54a";
var FONT = 24, STRETCH = 1.15;
var W = 689, H = 1200;
var left = 97, right = 669;

var svg = d3.select("#chart").append("svg")
  .attr("width", W).attr("height", H);

var x = d3.scaleLinear().domain([-1, 4]).range([left, right]);

// Text drawn slightly wider than the font, like the original figure
function addText(g, txt, px, py, anchor, rot) {
  return g.append("text")
    .attr("transform", "translate(" + px + "," + py + ")" + (rot ? " rotate(" + rot + ")" : "") + " scale(" + STRETCH + ",1)")
    .attr("text-anchor", anchor || "start")
    .attr("font-size", FONT)
    .attr("stroke", "currentColor")
    .attr("stroke-width", 0.12)
    .text(txt);
}

// Title with two subscripts
function title(main, s1, mid, s2, cx, by, color) {
  var t = addText(svg, null, cx, by, "middle").attr("fill", color).style("color", color);
  t.append("tspan").text(main);
  t.append("tspan").attr("font-size", 17).attr("dy", 5).text(s1);
  t.append("tspan").attr("dy", -5).text(mid);
  t.append("tspan").attr("font-size", 17).attr("dy", 5).text(s2);
}

var panels = [
  {top: 47,    bottom: 296,    pts: UG_A_PTS, avg: UG_A_AVG},
  {top: 311,   bottom: 559.3,  pts: LG_A_PTS, avg: LG_A_AVG},
  {top: 614.3, bottom: 864.3,  pts: UG_B_PTS, avg: UG_B_AVG},
  {top: 879.3, bottom: 1127.6, pts: LG_B_PTS, avg: LG_B_AVG}
];

var minorX = d3.range(-10, 41).map(function(i){ return i / 10; });

panels.forEach(function(p, i) {
  var yMax = Y_MAX[i];
  var y = d3.scaleLinear().domain([-10, yMax]).range([p.bottom, p.top]);
  var g = svg.append("g").style("color", "#000");

  g.append("clipPath").attr("id", "clip" + i)
    .append("rect")
    .attr("x", left).attr("y", p.top)
    .attr("width", right - left).attr("height", p.bottom - p.top);

  var plot = g.append("g").attr("clip-path", "url(#clip" + i + ")");

  // scatter
  plot.selectAll("rect.dot")
    .data(p.pts).enter()
    .append("rect")
    .attr("class", "dot")
    .attr("x", function(d){ return x(d[0]) - 1; })
    .attr("y", function(d){ return y(d[1]) - 1; })
    .attr("width", 2).attr("height", 2)
    .attr("fill", "#000");

  // averaged trace
  plot.append("path")
    .datum(p.avg)
    .attr("fill", "none")
    .attr("stroke", RED)
    .attr("stroke-width", 1.4)
    .attr("stroke-linejoin", "round")
    .attr("d", d3.line()
      .x(function(d){ return x(d[0]); })
      .y(function(d){ return y(d[1]); }));

  // t = 0 marker
  g.append("line")
    .attr("x1", x(0)).attr("x2", x(0))
    .attr("y1", p.top).attr("y2", p.bottom)
    .attr("stroke", "#000").attr("stroke-width", 1.8);

  // ticks on all four sides, pointing in
  var yMajor = d3.range(-10, yMax + 1, 10);
  var yMinor = d3.range(-10, yMax + 1, 5);
  function ticks(axis, tx, ty, values, size) {
    var a = g.append("g")
      .attr("transform", "translate(" + tx + "," + ty + ")")
      .call(axis.tickValues(values).tickSize(size).tickSizeOuter(0).tickFormat(""));
    a.select(".domain").remove();
    a.selectAll("line").attr("stroke-width", 1.4);
  }
  ticks(d3.axisBottom(x), 0, p.bottom, X_TICKS, -6);
  ticks(d3.axisBottom(x), 0, p.bottom, minorX, -3.5);
  ticks(d3.axisTop(x), 0, p.top, X_TICKS, -6);
  ticks(d3.axisTop(x), 0, p.top, minorX, -3.5);
  ticks(d3.axisLeft(y), left, 0, yMajor, -6);
  ticks(d3.axisLeft(y), left, 0, yMinor, -3.5);
  ticks(d3.axisRight(y), right, 0, yMajor, -6);
  ticks(d3.axisRight(y), right, 0, yMinor, -3.5);

  // frame
  g.append("rect")
    .attr("x", left).attr("y", p.top)
    .attr("width", right - left).attr("height", p.bottom - p.top)
    .attr("fill", "none").attr("stroke", "#000").attr("stroke-width", 2);

  // y tick labels (top one kept inside the frame height)
  d3.range(0, yMax + 1, 20).forEach(function(v) {
    var cy = Math.max(y(v), p.top + 8.5);
    addText(g, String(v), left - 8, cy + 8.6, "end");
  });

  // y axis title
  var yl = addText(g, null, 35, (p.top + p.bottom) / 2, "middle", -90);
  yl.append("tspan").text("q (MW/m");
  yl.append("tspan").attr("font-size", 16).attr("dy", -8).text("2");
  yl.append("tspan").attr("dy", 8).text(")");

  // panel tag
  addText(g, PANEL_NAMES[i], 569, p.top + 42.5, "start");

  // time labels under the last panel
  if (i === panels.length - 1) {
    X_TICKS.forEach(function(v, k) {
      addText(g, X_TICK_LABELS[k], x(v), p.bottom + 33, "middle");
    });
    addText(g, "Time (ms)", 375, 1191, "middle");
  }
});

title("#37343 reversed I", "p", " and B", "t", 381, 28, RED);
title("#38854 default I", "p", " and B", "t", 374, 598, GREEN);
</script>
</body>
</html>
